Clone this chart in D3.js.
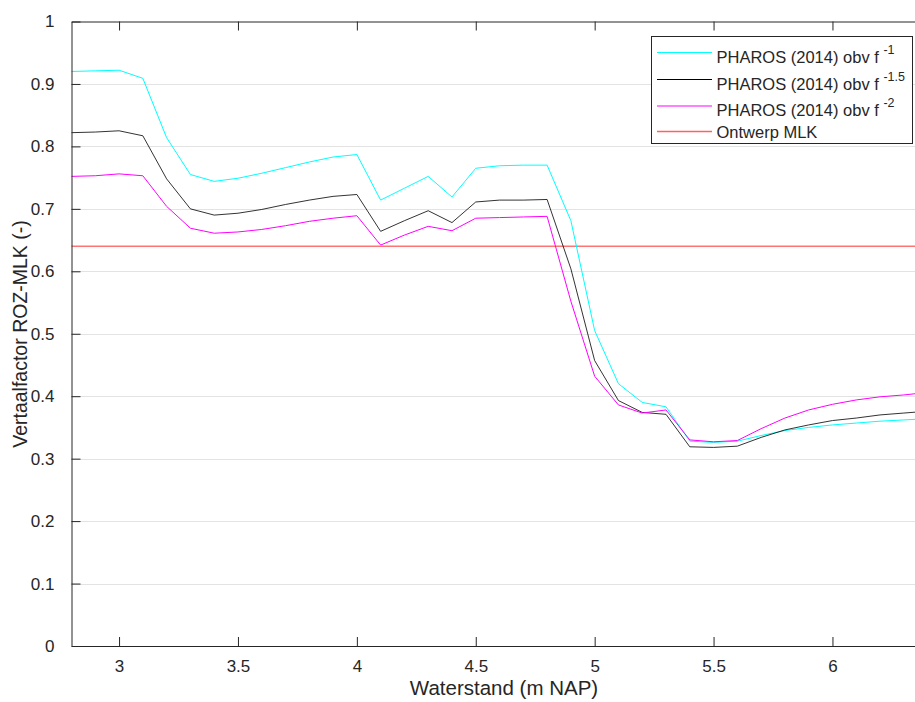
<!DOCTYPE html>
<html>
<head>
<meta charset="utf-8">
<script src="https://cdn.jsdelivr.net/npm/d3@7"></script>
<style>
  html, body { margin: 0; padding: 0; background: #fff; }
  svg { display: block; font-family: "Liberation Sans", Arial, Helvetica, sans-serif; }
</style>
</head>
<body>
<svg id="chart" width="915" height="702"></svg>
<script>
// Water level (m NAP)
const waterstand = [2.8, 2.9, 3.0, 3.1, 3.2, 3.3, 3.4, 3.5, 3.6, 3.7, 3.8, 3.9, 4.0, 4.1, 4.2, 4.3, 4.4, 4.5, 4.6, 4.7, 4.8, 4.9, 5.0, 5.1, 5.2, 5.3, 5.4, 5.5, 5.6, 5.7, 5.8, 5.9, 6.0, 6.1, 6.2, 6.3, 6.35];

// Translation factor ROZ-MLK per spectral assumption
const pharosF1 = [0.920, 0.921, 0.922, 0.909, 0.814, 0.755, 0.744, 0.749, 0.757, 0.766, 0.775, 0.783, 0.787, 0.714, 0.733, 0.752, 0.719, 0.765, 0.769, 0.770, 0.770, 0.681, 0.505, 0.420, 0.390, 0.383, 0.328, 0.326, 0.328, 0.337, 0.345, 0.350, 0.354, 0.357, 0.360, 0.362, 0.363];
const pharosF15 = [0.822, 0.823, 0.825, 0.817, 0.748, 0.700, 0.690, 0.693, 0.699, 0.707, 0.714, 0.720, 0.723, 0.664, 0.681, 0.697, 0.678, 0.711, 0.714, 0.714, 0.715, 0.604, 0.457, 0.393, 0.374, 0.371, 0.319, 0.318, 0.320, 0.334, 0.346, 0.354, 0.361, 0.365, 0.370, 0.373, 0.3745];
const pharosF2 = [0.752, 0.753, 0.756, 0.753, 0.704, 0.669, 0.661, 0.663, 0.667, 0.673, 0.680, 0.685, 0.689, 0.642, 0.658, 0.672, 0.665, 0.685, 0.686, 0.687, 0.688, 0.552, 0.432, 0.386, 0.373, 0.378, 0.330, 0.327, 0.329, 0.348, 0.365, 0.378, 0.387, 0.394, 0.399, 0.402, 0.404];
const ontwerpMLK = 0.64;

const xTicks = [3, 3.5, 4, 4.5, 5, 5.5, 6];
const yTicks = [0, 0.1, 0.2, 0.3, 0.4, 0.5, 0.6, 0.7, 0.8, 0.9, 1];

const series = [
  { name: "PHAROS (2014) obv f", sup: "-1",   values: pharosF1,  color: "#00ffff" },
  { name: "PHAROS (2014) obv f", sup: "-1.5", values: pharosF15, color: "#000000" },
  { name: "PHAROS (2014) obv f", sup: "-2",   values: pharosF2,  color: "#ff00ff" }
];
const mlkColor = "#ff3b3b";

const svg = d3.select("#chart");
const plotLeft = 71.5, plotTop = 21.5, plotBottom = 646;
const unit = 237.8; // pixels per metre of water level
const x = d3.scaleLinear().domain([2.8, 6.4]).range([plotLeft, plotLeft + 3.6 * unit]);
const y = d3.scaleLinear().domain([0, 1]).range([plotBottom, plotTop]);
const plotRight = x(6.4);

const axisColor = "#262626";

// horizontal grid
svg.append("g").selectAll("line").data(yTicks.filter(v => v > 0 && v < 1)).join("line")
  .attr("x1", plotLeft).attr("x2", plotRight)
  .attr("y1", d => Math.round(y(d)) + 0.5).attr("y2", d => Math.round(y(d)) + 0.5)
  .attr("stroke", "#e3e3e3").attr("stroke-width", 1);

// data lines
const line = d3.line().x((d, i) => x(waterstand[i])).y(d => y(d));
const plot = svg.append("g");
plot.append("line")
  .attr("x1", plotLeft).attr("x2", plotRight)
  .attr("y1", y(ontwerpMLK)).attr("y2", y(ontwerpMLK))
  .attr("stroke", mlkColor).attr("stroke-opacity", 0.7).attr("stroke-width", 1.6);
series.forEach(s => {
  plot.append("path").datum(s.values)
    .attr("d", line).attr("fill", "none")
    .attr("stroke", s.color).attr("stroke-width", 1)
    .attr("stroke-opacity", s.color === "#000000" ? 0.8 : 1);
});

// axes
const tickLen = 9;
const xAxis = d3.axisBottom(x).tickValues(xTicks).tickSizeInner(-tickLen).tickSizeOuter(0).tickPadding(14).tickFormat(d3.format("~g"));
const yAxis = d3.axisLeft(y).tickValues(yTicks).tickSizeInner(-tickLen).tickSizeOuter(0).tickPadding(17).tickFormat(d3.format("~g"));
const xTop = d3.axisTop(x).tickValues(xTicks).tickSizeInner(-tickLen).tickSizeOuter(0).tickFormat("");

function styleAxis(g) {
  g.select(".domain").attr("stroke", axisColor).attr("stroke-width", 1);
  g.selectAll(".tick line").attr("stroke", axisColor).attr("stroke-width", 1);
  g.selectAll(".tick text").attr("fill", axisColor).style("font-size", "17px");
}
svg.append("g").attr("transform", `translate(0,${plotBottom})`).call(xAxis).call(styleAxis);
svg.append("g").attr("transform", `translate(${plotLeft},0)`).call(yAxis).call(styleAxis);
svg.append("g").attr("transform", `translate(0,${plotTop})`).call(xTop).call(styleAxis);

// axis titles
svg.append("text").attr("x", 504).attr("y", 695).attr("text-anchor", "middle")
  .attr("fill", axisColor).style("font-size", "20.5px").text("Waterstand (m NAP)");
svg.append("text").attr("transform", "translate(27,334) rotate(-90)").attr("text-anchor", "middle")
  .attr("fill", axisColor).style("font-size", "19.5px").text("Vertaalfactor ROZ-MLK (-)");

// legend
const legendItems = series.map(s => ({ name: s.name, sup: s.sup, color: s.color, opacity: 1, width: 1.2 }))
  .concat([{ name: "Ontwerp MLK", sup: null, color: mlkColor, opacity: 0.8, width: 1.6 }]);
const lg = svg.append("g");
lg.append("rect").attr("x", 651.5).attr("y", 36.5).attr("width", 261).attr("height", 107)
  .attr("fill", "#fff").attr("stroke", axisColor).attr("stroke-width", 1);
const rowY = [52.5, 79.5, 106, 131.5];
legendItems.forEach((d, i) => {
  lg.append("line").attr("x1", 657).attr("x2", 712).attr("y1", rowY[i]).attr("y2", rowY[i])
    .style("stroke", d.color).style("stroke-opacity", d.opacity).style("stroke-width", d.width);
  const t = lg.append("text").attr("x", 716.5).attr("y", rowY[i] + (d.sup ? 10 : 6))
    .attr("fill", axisColor).style("font-size", "16.5px").text(d.name);
  if (d.sup) {
    t.append("tspan").text(" ").style("font-size", "16.5px");
    t.append("tspan").attr("dy", -9).style("font-size", "12.5px").text(d.sup);
  }
});
</script>
</body>
</html>
